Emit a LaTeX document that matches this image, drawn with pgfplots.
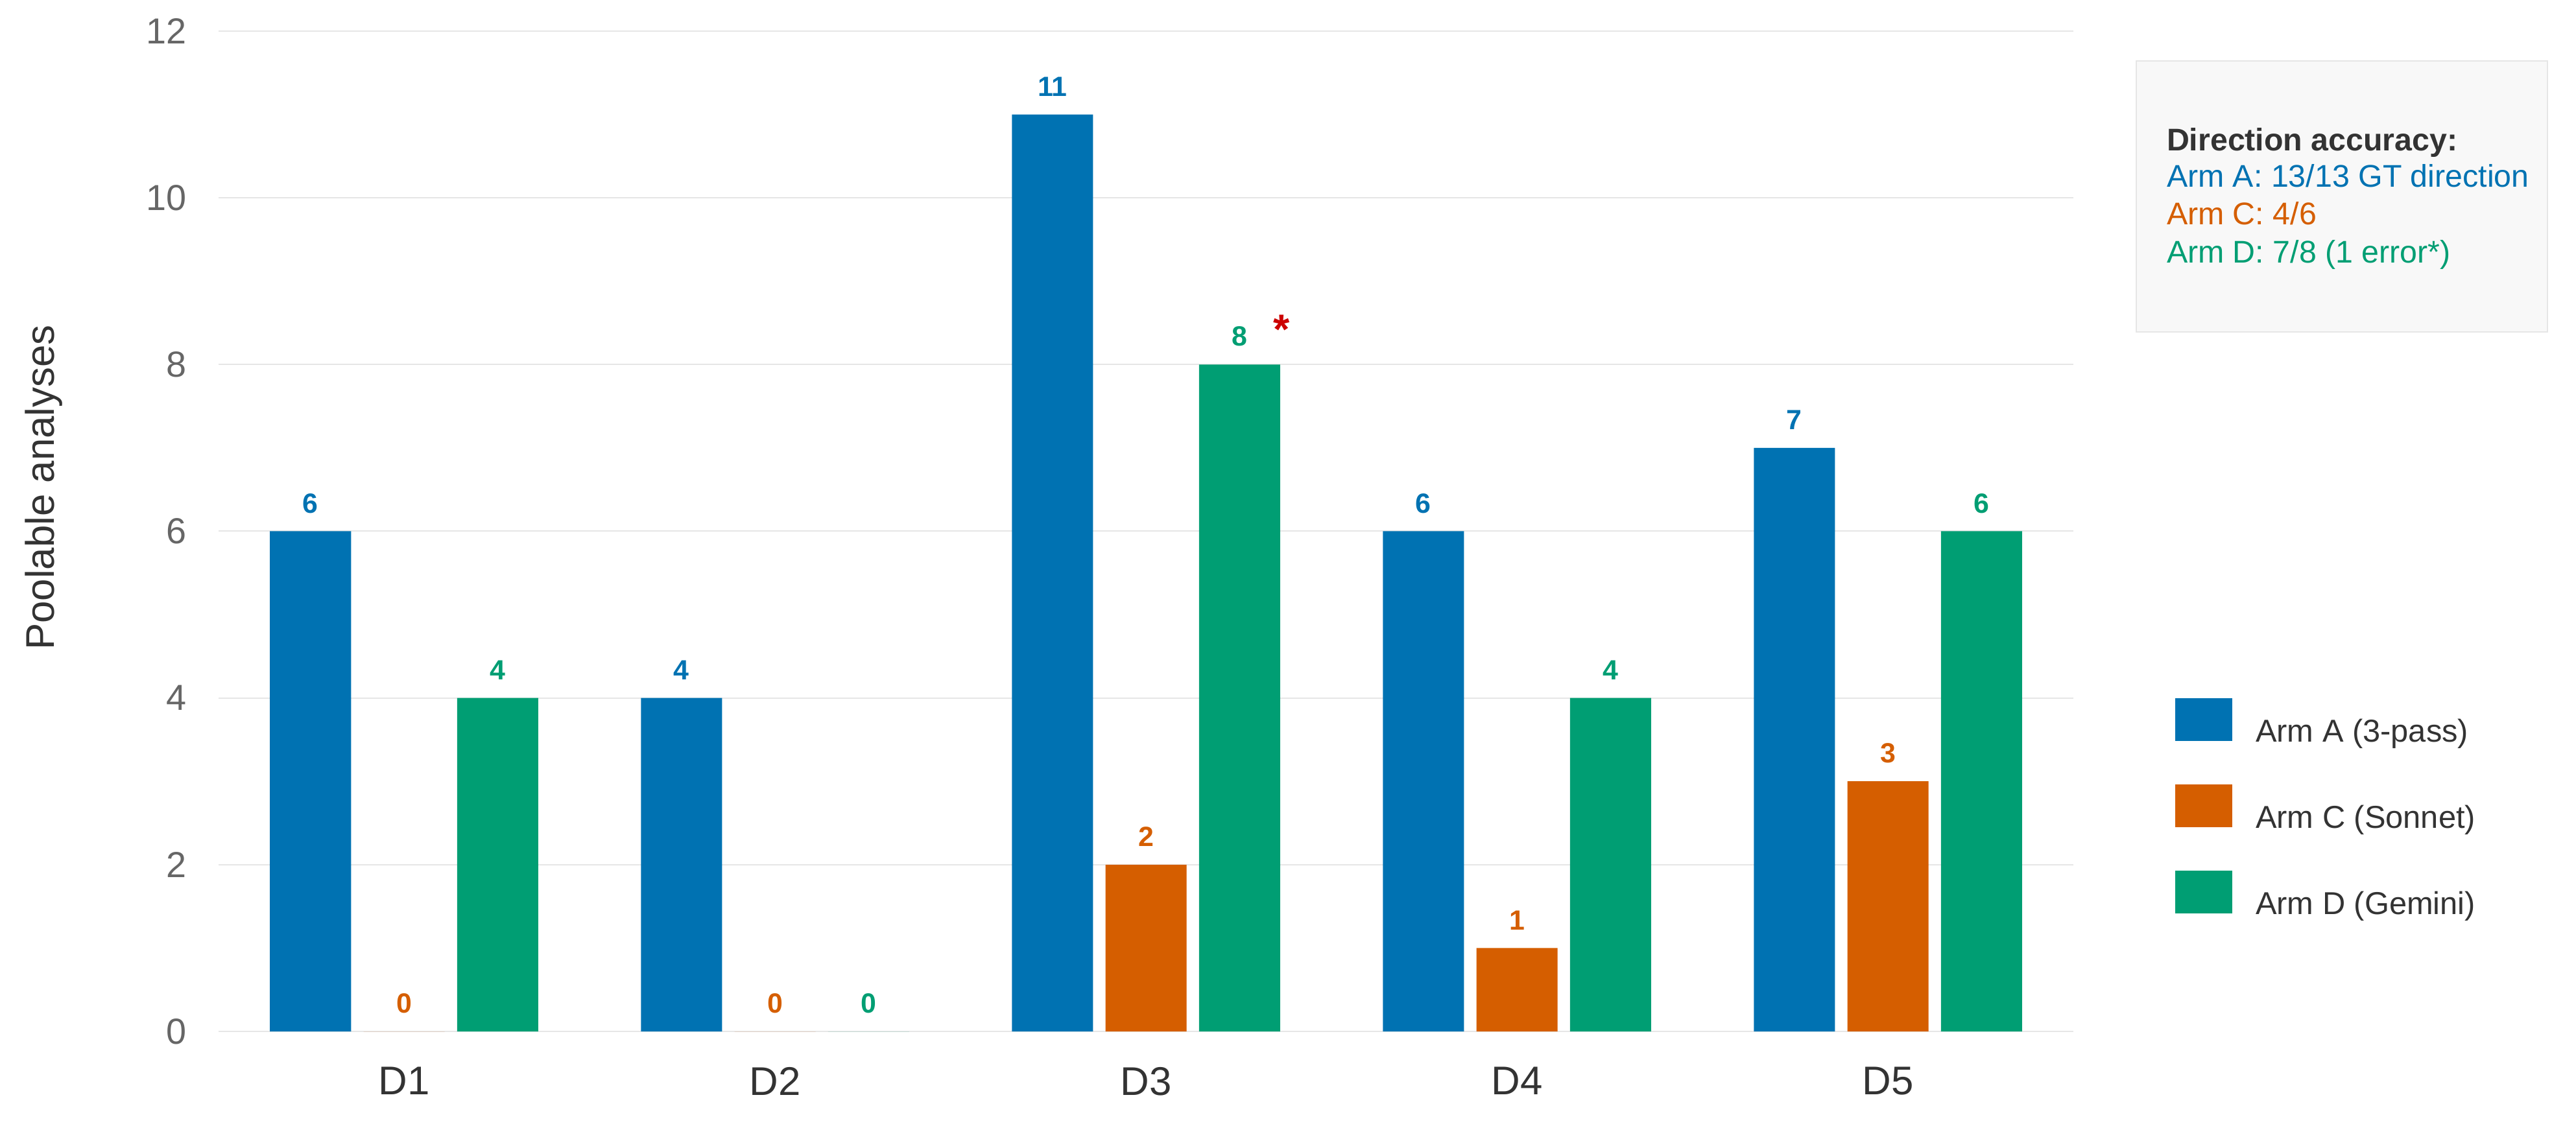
\documentclass[border=0pt]{standalone}
\usepackage{pgfplots}
\pgfplotsset{compat=1.18}
\usepackage{pgfplotstable}
\usepackage{fontspec}
\setmainfont{Liberation Sans}

\definecolor{armA}{HTML}{0072B2}
\definecolor{armC}{HTML}{D55E00}
\definecolor{armD}{HTML}{009E73}
\definecolor{txt}{HTML}{333333}
\definecolor{tickc}{HTML}{666666}
\definecolor{gridc}{HTML}{E6E6E6}
\definecolor{boxfill}{HTML}{F8F8F8}
\definecolor{boxline}{HTML}{E6E6E6}
\definecolor{starc}{HTML}{CC0000}

% poolable analyses per dataset and arm
\pgfplotstableread{
x A C D
0 6 0 4
1 4 0 0
2 11 2 8
3 6 1 4
4 7 3 6
}\poolable

\begin{document}
\begin{tikzpicture}
\path[use as bounding box] (-67.4bp,-29.8bp) rectangle (727bp,318.2bp);
\begin{axis}[
  at={(0,0)}, anchor=south west,
  scale only axis, width=572bp, height=308.6bp,
  xmin=-0.5, xmax=4.5, ymin=0, ymax=12,
  ybar, bar width=25bp,
  xtick={0,...,4}, xticklabels={D1,D2,D3,D4,D5},
  ytick={0,2,...,12},
  axis line style={draw=none},
  major tick length=0pt,
  ymajorgrids, grid style={gridc, line width=0.4bp},
  /pgf/number format/assume math mode=true,
  yticklabel style={font=\fontsize{11.2}{13}\selectfont, text=tickc, inner sep=0pt, xshift=-9.6bp},
  xticklabel style={font=\fontsize{12.4}{14}\selectfont, text=txt, inner sep=0pt, yshift=-10.8bp},
  ylabel={Poolable analyses},
  every axis y label/.style={at={(axis description cs:-0.0941,0.5437)}, rotate=90, anchor=center,
    font=\fontsize{12.4}{14}\selectfont, text=txt},
  nodes near coords,
  nodes near coords style={anchor=south, inner sep=0pt, yshift=5.4bp,
    font=\bfseries\fontsize{8.6}{10}\selectfont},
  sq legend/.style={legend image code/.code={\fill[##1] (0bp,-2.4bp) rectangle (17.6bp,10.8bp);}},
  legend style={at={(axis description cs:1.0549,0.3331)}, anchor=north west,
    draw=none, fill=none, inner sep=0pt, outer sep=0pt, row sep=11.5bp,
    font=\fontsize{9.8}{12}\selectfont, text=txt, nodes={inner sep=0pt},
    /tikz/every odd column/.append style={column sep=7.2bp}},
  legend cell align=left,
  clip=false,
]
\addplot[fill=armA, draw=none, bar shift=-28.85bp, sq legend,
  every node near coord/.append style={text=armA}] table[x=x, y=A] {\poolable};
\addlegendentry{Arm A (3-pass)}
\addplot[fill=armC, draw=none, bar shift=0bp, sq legend,
  every node near coord/.append style={text=armC}] table[x=x, y=C] {\poolable};
\addlegendentry{Arm C (Sonnet)}
\addplot[fill=armD, draw=none, bar shift=28.85bp, sq legend,
  every node near coord/.append style={text=armD}] table[x=x, y=D] {\poolable};
\addlegendentry{Arm D (Gemini)}
% flag on the D3 Gemini bar
\node[anchor=base, inner sep=0pt, text=starc, font=\bfseries\fontsize{13}{15}\selectfont]
  at (axis cs:2.365,8.25) {*};
\end{axis}
% direction accuracy note
\draw[boxline, fill=boxfill, line width=0.4bp] (591.4bp,215.8bp) rectangle (718.2bp,299.4bp);
\begin{scope}[every node/.style={anchor=base west, inner sep=0pt, font=\fontsize{9.7}{11.6}\selectfont}]
\node[text=txt, font=\bfseries\fontsize{9.7}{11.6}\selectfont] at (600.6bp,271.6bp) {Direction accuracy:};
\node[text=armA] at (600.6bp,260.4bp) {Arm A: 13/13 GT direction};
\node[text=armC] at (600.6bp,248.8bp) {Arm C: 4/6};
\node[text=armD] at (600.6bp,237.0bp) {Arm D: 7/8 (1 error*)};
\end{scope}
\end{tikzpicture}
\end{document}
